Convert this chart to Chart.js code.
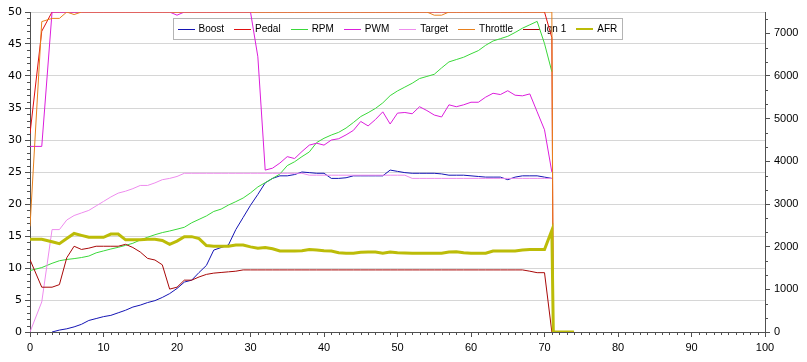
<!DOCTYPE html>
<html><head><meta charset="utf-8">
<script src="https://cdn.jsdelivr.net/npm/chart.js@4.4.1/dist/chart.umd.min.js"></script>
<style>html,body{margin:0;padding:0;background:#fff}#wrap{width:807px;height:362px}</style>
</head><body><div id="wrap"><canvas id="c" width="807" height="362"></canvas></div>
<script>
// x positions (time); 0, 1.6, then 3..71, then the drop / tail
const xs = [0, 1.6].concat(Array.from({length: 69}, (_, i) => i + 3)).concat([71.2, 74]);

const boost = [null, null,
  0, 0.3, 0.5, 0.8, 1.2, 1.8, 2.1, 2.4, 2.6, 3.0,
  3.4, 3.9, 4.2, 4.6, 4.9, 5.4, 6.0, 6.8, 7.8, 8.1,
  9.3, 10.4, 12.8, 13.2, 13.6, 16.0, 17.9, 19.8, 21.5, 23.3,
  24.0, 24.4, 24.4, 24.6, 25.0, 24.9, 24.8, 24.8, 24.0, 24.0,
  24.1, 24.4, 24.4, 24.4, 24.4, 24.4, 25.3, 25.1, 24.9, 24.8,
  24.8, 24.8, 24.8, 24.7, 24.5, 24.5, 24.5, 24.4, 24.3, 24.2,
  24.2, 24.2, 23.8, 24.2, 24.4, 24.4, 24.4, 24.2, 24.0,
  null, null];

const pedal = [31, 47,
  50, 50, 50, 50, 50, 50, 50, 50, 50, 50,
  50, 50, 50, 50, 50, 50, 50, 50, 50, 50,
  50, 50, 50, 50, 50, 50, 50, 50, 50, 50,
  50, 50, 50, 50, 50, 50, 50, 50, 50, 50,
  50, 50, 50, 50, 50, 50, 50, 50, 50, 50,
  50, 50, 50, 50, 50, 50, 50, 50, 50, 50,
  50, 50, 50, 50, 50, 50, 50, 50, 46,
  0, 0];

const rpm = [1440, 1510,
  1610, 1670, 1700, 1720, 1745, 1780, 1855, 1900, 1945, 1985,
  2030, 2080, 2156, 2220, 2280, 2330, 2367, 2410, 2455, 2560,
  2640, 2720, 2825, 2880, 2975, 3055, 3140, 3260, 3400, 3500,
  3600, 3703, 3900, 3990, 4110, 4220, 4440, 4540, 4617, 4680,
  4780, 4910, 5050, 5140, 5240, 5370, 5540, 5650, 5740, 5830,
  5940, 5990, 6040, 6190, 6330, 6385, 6440, 6520, 6595, 6720,
  6820, 6875, 6930, 7020, 7120, 7200, 7280, 6760, 6100,
  null, null];

const pwm = [29, 29,
  50, 50, 50, 50, 50, 50, 50, 50, 50, 50,
  50, 50, 50, 50, 50, 50, 50, 49.5, 50, 50,
  50, 50, 50, 50, 50, 50, 50, 50, 43, 25.3,
  25.6, 26.4, 27.4, 27.1, 28.2, 29.2, 29.5, 29.2, 30.0, 30.2,
  30.8, 31.5, 32.9, 32.2, 33.2, 34.4, 32.5, 34.2, 34.3, 34.1,
  35.2, 34.6, 33.9, 33.6, 35.5, 35.2, 35.5, 35.9, 35.9, 36.7,
  37.3, 37.1, 37.7, 37.0, 36.9, 37.2, 34.4, 31.6, 25.0,
  null, null];

const target = [0, 4.7,
  16, 16, 17.5, 18.2, 18.6, 19.0, 19.7, 20.4, 21.1, 21.7,
  22.0, 22.4, 22.9, 22.9, 23.3, 23.8, 24.0, 24.3, 24.8, 24.8,
  24.8, 24.8, 24.8, 24.8, 24.8, 24.8, 24.8, 24.8, 24.8, 24.8,
  24.8, 24.8, 24.8, 24.8, 24.8, 24.5, 24.5, 24.5, 24.5, 24.5,
  24.5, 24.5, 24.5, 24.5, 24.5, 24.5, 24.5, 24.5, 24.5, 24.0,
  24.0, 24.0, 24.0, 24.0, 24.0, 24.0, 24.0, 24.0, 24.0, 24.0,
  24.0, 24.0, 24.0, 24.0, 24.0, 24.0, 24.0, 24.0, 24.0,
  null, null];

const throttle = [16.5, 48.5,
  49, 49, 50, 49.6, 50, 50, 50, 50, 50, 50,
  50, 50, 50, 50, 50, 50, 50, 50, 50, 50,
  50, 50, 50, 50, 50, 50, 50, 50, 50, 50,
  50, 50, 50, 50, 50, 50, 50, 50, 50, 50,
  50, 50, 50, 50, 50, 50, 50, 50, 50, 50,
  50, 50, 49.5, 49.5, 50, 50, 50, 50, 50, 50,
  50, 50, 50, 50, 50, 50, 50, 50, 50,
  0, 0];

const ign1 = [11.3, 7.0,
  7.0, 7.4, 11.6, 13.4, 12.9, 13.1, 13.4, 13.4, 13.4, 13.4,
  13.7, 13.2, 12.5, 11.5, 11.25, 10.5, 6.7, 7.0, 8.1, 8.1,
  8.6, 9.0, 9.2, 9.3, 9.4, 9.5, 9.7, 9.7, 9.7, 9.7,
  9.7, 9.7, 9.7, 9.7, 9.7, 9.7, 9.7, 9.7, 9.7, 9.7,
  9.7, 9.7, 9.7, 9.7, 9.7, 9.7, 9.7, 9.7, 9.7, 9.7,
  9.7, 9.7, 9.7, 9.7, 9.7, 9.7, 9.7, 9.7, 9.7, 9.7,
  9.7, 9.7, 9.7, 9.7, 9.7, 9.5, 9.27, 9.27, 0,
  0, 0];

const afr = [14.5, 14.5,
  14.1, 13.8, 14.6, 15.4, 15.1, 14.8, 14.8, 14.8, 15.3, 15.3,
  14.4, 14.4, 14.4, 14.5, 14.5, 14.3, 13.7, 14.2, 14.9, 14.9,
  14.6, 13.5, 13.4, 13.4, 13.4, 13.6, 13.6, 13.3, 13.1, 13.2,
  13.0, 12.65, 12.65, 12.65, 12.7, 12.9, 12.8, 12.7, 12.65, 12.4,
  12.3, 12.3, 12.45, 12.5, 12.5, 12.3, 12.5, 12.4, 12.35, 12.3,
  12.3, 12.3, 12.3, 12.3, 12.5, 12.55, 12.4, 12.3, 12.3, 12.3,
  12.65, 12.65, 12.65, 12.65, 12.8, 12.9, 12.9, 12.9, 15.9,
  0, 0];

const seriesLabels = ['Boost', 'Pedal', 'RPM', 'PWM', 'Target', 'Throttle', 'Ign 1', 'AFR'];
const seriesColors = ['#1414b4', '#e01010', '#3ad83a', '#dc1edc', '#ee8cee', '#e8801c', '#a80808', '#bcbc08'];
const seriesData = [boost, pedal, rpm, pwm, target, throttle, ign1, afr];
const seriesAxis = ['y', 'y', 'y1', 'y', 'y', 'y', 'y', 'y'];
const seriesWidth = [1, 1, 1, 1, 1, 1, 1, 3];

const xTicks = [0, 10, 20, 30, 40, 50, 60, 70, 80, 90, 100];
const yTicks = [0, 5, 10, 15, 20, 25, 30, 35, 40, 45, 50];
const rpmTicks = [0, 1000, 2000, 3000, 4000, 5000, 6000, 7000];
const y1Max = 7500;

const datasets = seriesLabels.map((label, k) => ({
  label,
  data: xs.map((x, i) => ({x, y: seriesData[k][i]})),
  borderColor: seriesColors[k],
  backgroundColor: seriesColors[k],
  borderWidth: seriesWidth[k],
  yAxisID: seriesAxis[k],
  pointRadius: 0,
  tension: 0,
  fill: false,
  spanGaps: false,
  order: seriesLabels.length - k
}));

const axisColor = '#505050';
const setTicks = arr => s => { s.ticks = arr.map(v => ({value: v})); };

const minorTicks = {
  id: 'minorTicks',
  afterDraw(chart) {
    const ctx = chart.ctx;
    const sx = chart.scales.x, sy = chart.scales.y, s1 = chart.scales.y1;
    ctx.save();
    ctx.strokeStyle = axisColor;
    ctx.lineWidth = 1;
    ctx.beginPath();
    for (let i = 0; i < xTicks.length - 1; i++) {
      for (let j = 1; j < 10; j++) {
        const v = xTicks[i] + (xTicks[i + 1] - xTicks[i]) * j / 10;
        const p = Math.round(sx.getPixelForValue(v)) + 0.5;
        ctx.moveTo(p, sx.top); ctx.lineTo(p, sx.top + 3);
      }
    }
    for (let i = 0; i < yTicks.length - 1; i++) {
      for (let j = 1; j < 5; j++) {
        const v = yTicks[i] + (yTicks[i + 1] - yTicks[i]) * j / 5;
        const p = Math.round(sy.getPixelForValue(v)) + 0.5;
        ctx.moveTo(sy.right - 3, p); ctx.lineTo(sy.right, p);
      }
    }
    for (let i = 0; i < rpmTicks.length; i++) {
      const step = 1000;
      for (let j = 1; j < 3; j++) {
        const v = rpmTicks[i] + step * j / 3;
        if (v > y1Max) continue;
        const p = Math.round(s1.getPixelForValue(v)) + 0.5;
        ctx.moveTo(s1.left, p); ctx.lineTo(s1.left + 3, p);
      }
    }
    ctx.stroke();
    ctx.restore();
  }
};

// legend box drawn underneath the data lines, as in the reference
const boxLegend = {
  id: 'boxLegend',
  beforeDatasetsDraw(chart) {
    const ctx = chart.ctx;
    const area = chart.chartArea;
    ctx.save();
    ctx.font = '10px "Liberation Sans", Arial, sans-serif';
    const lineLen = 17, gapLT = 4, gapItem = 10, padL = 4, padR = 5;
    const widths = seriesLabels.map(t => ctx.measureText(t).width);
    let total = padL + padR;
    widths.forEach((w, i) => { total += lineLen + gapLT + w + (i ? gapItem : 0); });
    total = Math.round(total);
    const top = 18.5, h = 21;
    const left = Math.round((area.left + area.right) / 2 - total / 2) + 0.5;
    ctx.fillStyle = '#ffffff';
    ctx.fillRect(left, top, total, h);
    ctx.strokeStyle = '#b4b4b4';
    ctx.lineWidth = 1;
    ctx.strokeRect(left, top, total, h);
    let x = left + padL;
    const cy = top + h / 2;
    seriesLabels.forEach((label, i) => {
      if (i) x += gapItem;
      const x0 = Math.round(x);
      ctx.fillStyle = seriesColors[i];
      const lw = seriesWidth[i] > 1 ? 2 : 1;
      ctx.fillRect(x0, Math.round(cy) - (lw > 1 ? 1 : 0), lineLen, lw);
      x += lineLen + gapLT;
      ctx.fillStyle = '#000000';
      ctx.textBaseline = 'middle';
      ctx.textAlign = 'left';
      ctx.fillText(label, x, cy + 0.5);
      x += widths[i];
    });
    ctx.restore();
  }
};

new Chart(document.getElementById('c'), {
  type: 'line',
  data: {datasets},
  options: {
    responsive: false,
    animation: false,
    devicePixelRatio: 1,
    layout: {padding: {top: 12, left: 0, right: 0, bottom: 0}},
    plugins: {legend: {display: false}, tooltip: {enabled: false}},
    scales: {
      x: {
        type: 'linear', min: xTicks[0], max: xTicks[xTicks.length - 1],
        afterBuildTicks: setTicks(xTicks),
        ticks: {padding: 4, color: '#000', font: {family: 'Liberation Sans', size: 11}, maxRotation: 0, autoSkip: false},
        grid: {drawOnChartArea: false, tickLength: 5, tickColor: axisColor},
        border: {color: axisColor},
        afterFit: s => { s.height = 30; }
      },
      y: {
        position: 'left', min: yTicks[0], max: yTicks[yTicks.length - 1],
        afterBuildTicks: setTicks(yTicks),
        ticks: {padding: 3, color: '#000', font: {family: 'DejaVu Sans', size: 11}, autoSkip: false},
        grid: {color: '#d6d6d6', tickLength: 5, tickColor: axisColor},
        border: {color: axisColor},
        afterFit: s => { s.width = 30; }
      },
      y1: {
        position: 'right', min: 0, max: y1Max,
        afterBuildTicks: setTicks(rpmTicks),
        ticks: {padding: 4, color: '#000', font: {family: 'Liberation Sans', size: 11}, autoSkip: false, callback: v => String(v)},
        grid: {drawOnChartArea: false, tickLength: 5, tickColor: axisColor},
        border: {color: axisColor},
        afterFit: s => { s.width = 42; }
      }
    }
  },
  plugins: [minorTicks, boxLegend]
});
</script>
</body></html>
